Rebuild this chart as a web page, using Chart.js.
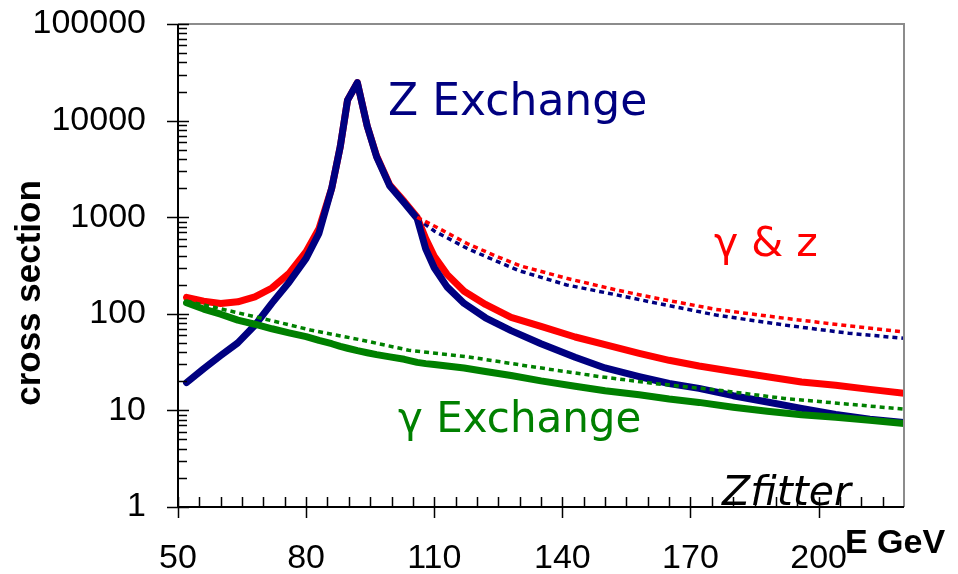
<!DOCTYPE html>
<html>
<head>
<meta charset="utf-8">
<title>Cross section vs E</title>
<script src="https://cdn.jsdelivr.net/npm/chart.js@4.4.1/dist/chart.umd.min.js"></script>
<style>
  html, body { margin: 0; padding: 0; background: #fff; }
</style>
</head>
<body>
<canvas id="xsec" width="958" height="574"></canvas>
<script>
// energy grid (GeV) for the three full curves
const energy = [52, 56, 60, 64, 68, 72, 76, 80, 83, 86, 88, 89.7, 92, 94.3, 96.5, 99.6, 103, 106,
  108, 110, 113, 117, 122, 128, 135, 143, 150, 158, 165, 172, 180, 188, 196, 204, 212, 220];
const zExchange = [19.4, 27, 37, 50, 76, 129, 212, 375, 680, 2000, 5400, 16300, 24700, 8800, 4230, 2100, 1400, 970,
  470, 300, 190, 128, 91, 67, 49, 35.5, 27.5, 22.4, 19, 16.9, 14.2, 12.2, 10.5, 9.1, 8.1, 7.5];
const gammaZ = [148, 135, 128, 133, 150, 185, 262, 440, 760, 2000, 5400, 16300, 24700, 8800, 4300, 2150, 1450, 1000,
  600, 394, 256, 171, 125, 92, 74, 57.5, 48, 39, 33, 28.8, 25.3, 22.3, 19.7, 18.2, 16.5, 15];
const gammaExchange = [130, 112, 99, 86, 78, 70, 63.5, 58, 53, 49, 46, 44, 41.5, 39.5, 37.8, 35.8, 33.8, 31.4,
  30.5, 29.8, 28.8, 27.5, 25.3, 23, 20.2, 17.8, 16, 14.5, 13.1, 12.1, 10.8, 9.8, 9.0, 8.5, 7.9, 7.3];

// dotted curves above the peak
const energyHigh = [106, 110, 118, 125, 130, 141, 153, 162, 176, 192, 207, 220];
const gammaZDotted = [1000, 811, 525, 387, 315, 233, 175, 145, 111, 90, 75, 65];
const zDotted = [980, 720, 468, 345, 278, 199, 156, 129, 97, 76.5, 63, 55.7];

const energyGamma = [52, 58, 70, 81, 93, 104, 118, 133, 149, 161, 176, 192, 207, 220];
const gammaDotted = [135, 118, 89, 68, 53.5, 42, 35.8, 28.3, 22.3, 19.1, 16.3, 13.3, 11.6, 10.3];

const xTicks = [50, 80, 110, 140, 170, 200];
const yTicks = [1, 10, 100, 1000, 10000, 100000];

const RED = '#ff0000';
const NAVY = '#000080';
const GREEN = '#008000';

const pts = (xs, ys) => xs.map((x, i) => ({ x: x, y: ys[i] }));

const solid = (label, color, xs, ys) => ({
  label: label,
  data: pts(xs, ys),
  borderColor: color,
  borderWidth: 7,
  borderCapStyle: 'round',
  borderJoinStyle: 'round',
  pointRadius: 0,
  tension: 0,
  fill: false
});

const dotted = (label, color, xs, ys) => ({
  label: label,
  data: pts(xs, ys),
  borderColor: color,
  borderWidth: 3.5,
  borderDash: [5, 4],
  borderCapStyle: 'butt',
  pointRadius: 0,
  tension: 0,
  fill: false
});

// labels drawn in data space
const notes = [
  { text: 'Z Exchange', e: 99.2, v: 11400, color: NAVY, font: '44px "DejaVu Sans"' },
  { text: '\u03b3 & z', e: 175.5, v: 397, color: RED, font: '41px "DejaVu Sans"' },
  { text: '\u03b3 Exchange', e: 101.5, v: 5.97, color: GREEN, font: '42px "DejaVu Sans"' },
  { text: 'Zfitter', e: 177.4, v: 1.05, color: '#000', font: 'italic 41px "DejaVu Sans"' }
];

const axesPlugin = {
  id: 'axes',
  afterDatasetsDraw(chart) {
    const { ctx, chartArea: a, scales: { x, y } } = chart;
    ctx.save();

    // grey frame top/right, black axes left/bottom
    ctx.lineWidth = 2;
    ctx.strokeStyle = '#8c8c8c';
    ctx.beginPath();
    ctx.moveTo(a.left, a.top);
    ctx.lineTo(a.right, a.top);
    ctx.lineTo(a.right, a.bottom);
    ctx.stroke();

    ctx.strokeStyle = '#000';
    ctx.beginPath();
    ctx.moveTo(a.left, a.top);
    ctx.lineTo(a.left, a.bottom);
    ctx.lineTo(a.right, a.bottom);
    ctx.stroke();

    ctx.lineWidth = 1.5;
    ctx.beginPath();
    yTicks.forEach((d, i) => {
      const py = Math.round(y.getPixelForValue(d)) + 0.5;
      ctx.moveTo(a.left - 11, py);
      ctx.lineTo(a.left + 11, py);
      if (i === yTicks.length - 1) return;
      for (let m = 2; m <= 9; m++) {
        const my = Math.round(y.getPixelForValue(d * m)) + 0.5;
        ctx.moveTo(a.left, my);
        ctx.lineTo(a.left + 9, my);
      }
    });
    xTicks.forEach(v => {
      const px = Math.round(x.getPixelForValue(v)) + 0.5;
      ctx.moveTo(px, a.bottom - 10);
      ctx.lineTo(px, a.bottom + 11);
    });
    for (let v = 55; v < 220; v += 5) {
      if (xTicks.includes(v)) continue;
      const px = Math.round(x.getPixelForValue(v)) + 0.5;
      ctx.moveTo(px, a.bottom - 10);
      ctx.lineTo(px, a.bottom);
    }
    ctx.stroke();

    // curve labels
    ctx.textAlign = 'left';
    ctx.textBaseline = 'alphabetic';
    notes.forEach(n => {
      ctx.font = n.font;
      ctx.fillStyle = n.color;
      ctx.fillText(n.text, x.getPixelForValue(n.e), y.getPixelForValue(n.v));
    });

    // axis titles
    ctx.fillStyle = '#000';
    ctx.font = 'bold 34px "Liberation Sans"';
    ctx.fillText('E GeV', 845, 553);

    ctx.translate(30, 293);
    ctx.rotate(-Math.PI / 2);
    ctx.textAlign = 'center';
    ctx.textBaseline = 'middle';
    ctx.font = 'bold 35px "Liberation Sans"';
    ctx.fillText('cross section', 0, 0);
    ctx.restore();
  }
};

const tickFont = { family: 'Liberation Sans', size: 34 };

new Chart(document.getElementById('xsec'), {
  type: 'line',
  data: {
    datasets: [
      dotted('\u03b3 & z (dotted)', RED, energyHigh, gammaZDotted),
      dotted('Z (dotted)', NAVY, energyHigh, zDotted),
      dotted('\u03b3 (dotted)', GREEN, energyGamma, gammaDotted),
      solid('\u03b3 Exchange', GREEN, energy, gammaExchange),
      solid('Z Exchange', NAVY, energy, zExchange),
      solid('\u03b3 & z', RED, energy, gammaZ)
    ]
  },
  options: {
    responsive: false,
    animation: false,
    layout: { padding: { top: 24, right: 54, left: 0, bottom: 0 } },
    plugins: {
      legend: { display: false },
      tooltip: { enabled: false }
    },
    scales: {
      x: {
        type: 'linear',
        min: 50,
        max: 220,
        afterBuildTicks: s => { s.ticks = xTicks.map(v => ({ value: v })); },
        afterFit: s => { s.height = 67; s.paddingLeft = 0; s.paddingRight = 0; },
        grid: { display: false, drawTicks: false },
        border: { display: false },
        ticks: { font: tickFont, color: '#000', padding: 31, maxRotation: 0, autoSkip: false }
      },
      y: {
        type: 'logarithmic',
        min: 1,
        max: 100000,
        afterBuildTicks: s => { s.ticks = yTicks.map(v => ({ value: v })); },
        afterFit: s => { s.width = 178; s.paddingTop = 0; s.paddingBottom = 0; },
        grid: { display: false, drawTicks: false },
        border: { display: false },
        ticks: { font: tickFont, color: '#000', padding: 32, autoSkip: false, callback: v => String(v) }
      }
    }
  },
  plugins: [axesPlugin]
});
</script>
</body>
</html>
